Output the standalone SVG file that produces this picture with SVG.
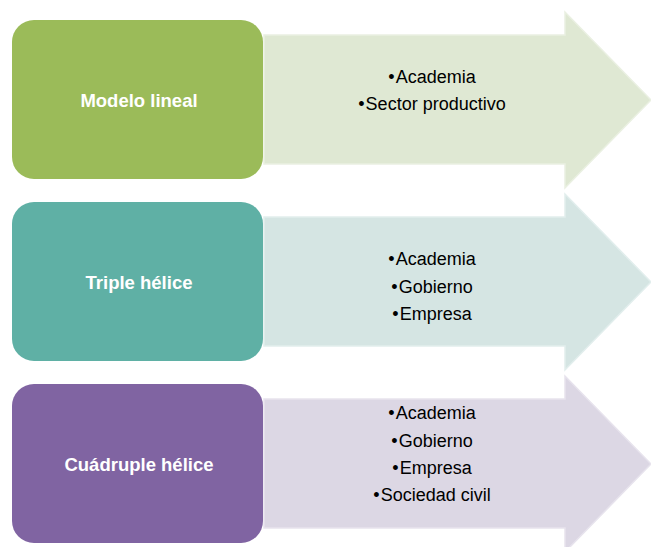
<svg xmlns="http://www.w3.org/2000/svg" width="651" height="547" viewBox="0 0 651 547">
<style>
.lbl{font-family:"Liberation Sans",Arial,sans-serif;font-weight:bold;font-size:18.5px;fill:#ffffff;text-anchor:middle;dominant-baseline:central}
.itm{font-family:"Liberation Sans",Arial,sans-serif;font-size:18px;fill:#000000;text-anchor:middle;dominant-baseline:central}
.arr{stroke-width:1.5;stroke-linejoin:miter}
</style>
<rect width="651" height="547" fill="#ffffff"/>
<g id="connectors">
<polygon class="arr" points="264,35 565,35 565,12 651,100 565,188 565,164 264,164" fill="#dfe8d3" stroke="#eaf0e2"/>
<polygon class="arr" points="264,217 565,217 565,194 651,282 565,370 565,346 264,346" fill="#d5e5e3" stroke="#e2eeed"/>
<polygon class="arr" points="264,399 565,399 565,376 651,464 565,552 565,528 264,528" fill="#dcd7e4" stroke="#e7e3ed"/>
</g>
<g id="modelo-lineal">
<rect x="12" y="20" width="251" height="159" rx="22" fill="#9bbb59"/>
<text class="lbl" x="139" y="100">Modelo lineal</text>
</g>
<g id="modelo-lineal-items">
<text class="itm" x="432" y="77"><tspan>•</tspan><tspan dx="1">Academia</tspan></text>
<text class="itm" x="432" y="104"><tspan>•</tspan><tspan dx="1">Sector productivo</tspan></text>
</g>
<g id="triple-helice">
<rect x="12" y="202" width="251" height="159" rx="22" fill="#5fb0a5"/>
<text class="lbl" x="139" y="282">Triple hélice</text>
</g>
<g id="triple-helice-items">
<text class="itm" x="432" y="259"><tspan>•</tspan><tspan dx="1">Academia</tspan></text>
<text class="itm" x="432" y="287"><tspan>•</tspan><tspan dx="1">Gobierno</tspan></text>
<text class="itm" x="432" y="314"><tspan>•</tspan><tspan dx="1">Empresa</tspan></text>
</g>
<g id="cuadruple-helice">
<rect x="12" y="384" width="251" height="159" rx="22" fill="#8064a2"/>
<text class="lbl" x="139" y="464">Cuádruple hélice</text>
</g>
<g id="cuadruple-helice-items">
<text class="itm" x="432" y="413"><tspan>•</tspan><tspan dx="1">Academia</tspan></text>
<text class="itm" x="432" y="441"><tspan>•</tspan><tspan dx="1">Gobierno</tspan></text>
<text class="itm" x="432" y="468"><tspan>•</tspan><tspan dx="1">Empresa</tspan></text>
<text class="itm" x="432" y="495"><tspan>•</tspan><tspan dx="1">Sociedad civil</tspan></text>
</g>
</svg>
